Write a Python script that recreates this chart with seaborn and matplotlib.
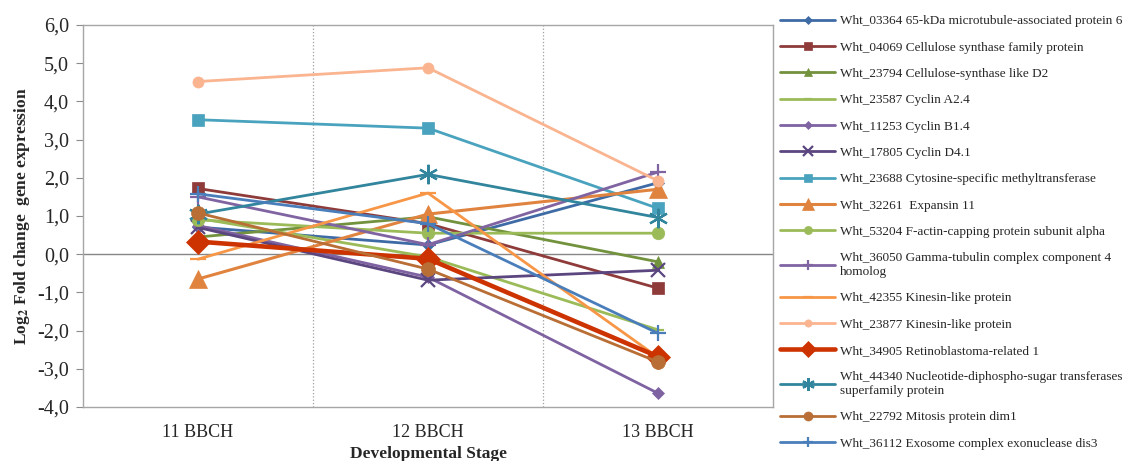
import matplotlib
matplotlib.use("Agg")
import matplotlib.pyplot as plt
import seaborn as sns
import pandas as pd
from matplotlib.ticker import FixedLocator, FuncFormatter

stages = ["11 BBCH", "12 BBCH", "13 BBCH"]

genes = [
    "Wht_03364 65-kDa microtubule-associated protein 6",
    "Wht_04069 Cellulose synthase family protein",
    "Wht_23794 Cellulose-synthase like D2",
    "Wht_23587 Cyclin A2.4",
    "Wht_11253 Cyclin B1.4",
    "Wht_17805 Cyclin D4.1",
    "Wht_23688 Cytosine-specific methyltransferase",
    "Wht_32261  Expansin 11",
    "Wht_53204 F-actin-capping protein subunit alpha",
    "Wht_36050 Gamma-tubulin complex component 4\nhomolog",
    "Wht_42355 Kinesin-like protein",
    "Wht_23877 Kinesin-like protein",
    "Wht_34905 Retinoblastoma-related 1",
    "Wht_44340 Nucleotide-diphospho-sugar transferases\nsuperfamily protein",
    "Wht_22792 Mitosis protein dim1",
    "Wht_36112 Exosome complex exonuclease dis3",
]

wht_03364 = [0.71, 0.24, 1.87]
wht_04069 = [1.72, 0.80, -0.89]
wht_23794 = [0.45, 0.98, -0.20]
wht_23587 = [0.94, -0.07, -1.98]
wht_11253 = [0.75, -0.60, -3.64]
wht_17805 = [0.70, -0.68, -0.42]
wht_23688 = [3.52, 3.30, 1.20]
wht_32261 = [-0.65, 1.05, 1.70]
wht_53204 = [0.90, 0.55, 0.55]
wht_36050 = [1.50, 0.25, 2.15]
wht_42355 = [-0.13, 1.60, -2.70]
wht_23877 = [4.52, 4.88, 1.92]
wht_34905 = [0.33, -0.12, -2.68]
wht_44340 = [1.05, 2.09, 0.96]
wht_22792 = [1.08, -0.39, -2.82]
wht_36112 = [1.58, 0.80, -2.07]

values = [wht_03364, wht_04069, wht_23794, wht_23587, wht_11253, wht_17805,
          wht_23688, wht_32261, wht_53204, wht_36050, wht_42355, wht_23877,
          wht_34905, wht_44340, wht_22792, wht_36112]

colors = ["#3E6BA5", "#8E3B3A", "#72923D", "#9BBB59", "#7F62A1", "#5B4680",
          "#4AA3BE", "#E0833F", "#9BBB59", "#8064A2", "#F79646", "#FAB48F",
          "#CC3300", "#31859C", "#B86E35", "#4A7EBB"]
asterisk = (6, 2, 0)
markers = ["D", "s", "^", "_", "D", "x", "s", "^", "o", "+", "_", "o",
           "D", asterisk, "o", "+"]
msizes = [6, 8, 8, 8, 6, 10, 8, 13, 9, 12, 12, 8, 12, 14, 10, 12]
lws = [2.0, 2.0, 2.0, 2.0, 2.0, 2.0, 2.0, 2.2, 2.0, 2.0, 2.0, 2.0, 3.3, 2.0, 2.0, 2.0]

rows = []
for g, vals in zip(genes, values):
    for i, v in enumerate(vals):
        rows.append({"gene": g, "pos": i, "value": v})
df = pd.DataFrame(rows)

sns.set_style("white")
plt.rcParams["font.family"] = ["Liberation Serif", "DejaVu Serif"]
plt.rcParams["mathtext.fontset"] = "stix"

fig = plt.figure(figsize=(11.31, 4.61), dpi=100)
ax = fig.add_axes([83 / 1131, 1 - 407 / 461, 690 / 1131, 382 / 461])

for g, c, m, ms, lw in zip(genes, colors, markers, msizes, lws):
    sub = df[df["gene"] == g]
    mew = 1.6 if m in ("x", "+", "_", asterisk) else 0.5
    sns.lineplot(data=sub, x="pos", y="value", ax=ax, color=c, marker=m,
                 markersize=ms, linewidth=lw, markeredgecolor=c,
                 markeredgewidth=mew, label=g, legend=False)

ax.set_xlim(-0.5, 2.5)
ax.set_ylim(-4, 6)
ax.set_xticks(range(len(stages)))
ax.set_xticklabels(stages, fontsize=13)
ax.xaxis.set_minor_locator(FixedLocator([0.5, 1.5]))
ax.grid(which="minor", axis="x", color="#A0A0A0", linestyle=":", linewidth=0.9)
ax.tick_params(axis="x", which="both", length=0, pad=12)
ax.set_yticks(range(-4, 7))
ax.yaxis.set_major_formatter(FuncFormatter(lambda v, p: f"{v:.1f}".replace(".", ",")))
ax.tick_params(axis="y", labelsize=14.5, length=5, color="#8C8C8C", direction="out", left=True, pad=5)
ax.axhline(0, color="#868686", linewidth=1.0, zorder=1)
for s in ax.spines.values():
    s.set_color("#A6A6A6")
    s.set_linewidth(1.0)

ax.set_xlabel("Developmental Stage", fontsize=12.5, fontweight="bold", labelpad=4)
ax.set_ylabel(r"Log$_\mathbf{2}$ Fold change  gene expression", fontsize=12.5,
              fontweight="bold", labelpad=4)

handles, labels = ax.get_legend_handles_labels()
fig.legend(handles, labels, loc="upper left", bbox_to_anchor=(780 / 1131, 1 - 15 / 461),
           frameon=False, fontsize=9.5, handlelength=4.2, handletextpad=0.35,
           labelspacing=1.07, borderaxespad=0, borderpad=0, markerscale=0.65)

fig.savefig("out.png", dpi=100)
